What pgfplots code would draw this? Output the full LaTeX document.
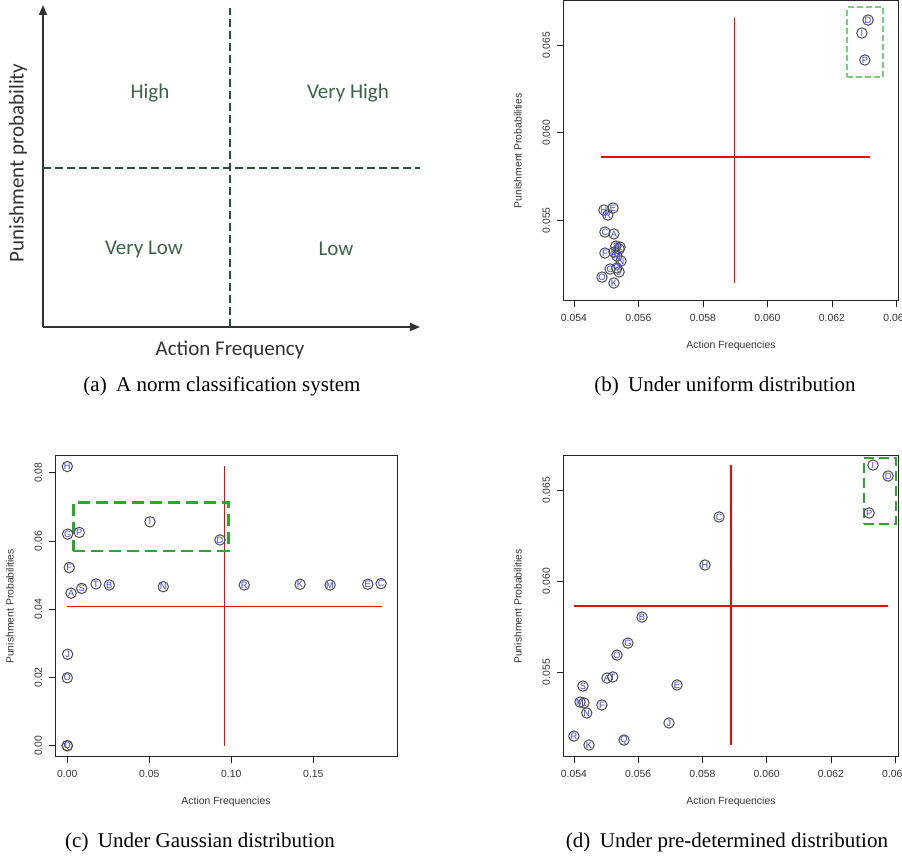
\documentclass[border=0pt]{standalone}
\usepackage{fontspec}
\setmainfont{Liberation Serif}
\newfontfamily\rfont{Liberation Sans}
\newfontfamily\cfont{Carlito}
\usepackage{pgfplots}
\pgfplotsset{compat=1.18}
\usepackage{pgfplotstable}
\usetikzlibrary{arrows.meta}

\definecolor{qgreen}{RGB}{60,100,75}
\definecolor{qdash}{RGB}{40,80,55}
\definecolor{ptblue}{RGB}{60,60,255}
\definecolor{boxgreen}{RGB}{40,170,40}
\definecolor{boxlight}{RGB}{120,205,120}
\definecolor{rline}{RGB}{255,0,0}

% points: uniform
\pgfplotstableread{
x y lab
0.06312 0.06643 D
0.06293 0.06569 I
0.06302 0.06415 P
0.05493 0.05559 H
0.05521 0.05570 E
0.05505 0.05530 R
0.05496 0.05433 C
0.05524 0.05422 A
0.05496 0.05313 F
0.05540 0.05336 T
0.05530 0.05353 S
0.05524 0.05319 B
0.05543 0.05347 L
0.05533 0.05296 M
0.05546 0.05268 N
0.05512 0.05222 G
0.05540 0.05205 J
0.05533 0.05228 Q
0.05487 0.05176 O
0.05524 0.05142 K
}\ptsb

% points: gaussian
\pgfplotstableread{
x y lab
0.0000 0.0818 H
0.0002 0.0620 G
0.0073 0.0625 P
0.0504 0.0656 I
0.0931 0.0603 D
0.0012 0.0522 F
0.0023 0.0447 A
0.0088 0.0461 S
0.0175 0.0474 T
0.0256 0.0471 B
0.0585 0.0466 N
0.1079 0.0471 R
0.1419 0.0473 K
0.1602 0.0471 M
0.1832 0.0473 E
0.1913 0.0475 C
0.0002 0.0268 J
0.0000 0.0199 O
0.0000 0.0000 L
0.0000 0.0000 Q
}\ptsc

% points: pre-determined
\pgfplotstableread{
x y lab
0.06331 0.06637 I
0.06378 0.06577 D
0.06319 0.06374 P
0.05852 0.06352 C
0.05808 0.06088 H
0.05612 0.05802 B
0.05568 0.05659 G
0.05534 0.05593 O
0.05503 0.05467 A
0.05521 0.05473 T
0.05428 0.05423 S
0.05721 0.05429 E
0.05419 0.05335 M
0.05431 0.05330 L
0.05487 0.05319 F
0.05440 0.05275 N
0.05696 0.05220 J
0.05400 0.05148 R
0.05556 0.05126 Q
0.05447 0.05099 K
}\ptsd

\pgfplotsset{
  rplot/.style={
    scale only axis, scaled ticks=false,
    axis line style={black!85, line width=0.5pt},
    tick align=outside, tick pos=left, major tick length=3pt,
    tick style={black!85, line width=0.4pt},
    ticklabel style={font=\rfont\fontsize{5.2}{6}\selectfont, text=black!80},
    yticklabel style={rotate=90, anchor=south},
    label style={font=\rfont\fontsize{5.2}{6}\selectfont, text=black!80},
    xlabel style={at={(axis description cs:0.5,0)}, anchor=center, yshift=-22.5pt},
    ylabel style={at={(axis description cs:0,0.5)}, anchor=center, yshift=22.5pt},
    xlabel={Action Frequencies}, ylabel={Punishment Probabilities},
  },
  pts/.style={only marks, mark=o, mark size=2.6pt,
    mark options={draw=black!70, line width=0.5pt},
    nodes near coords, point meta=explicit symbolic,
    every node near coord/.append style={anchor=center, inner sep=0pt,
      font=\rfont\fontsize{4.6}{4.6}\selectfont, text=ptblue}},
  redline/.style={color=rline, line width=0.55pt, no markers},
}

\begin{document}
\begin{tikzpicture}
\path[use as bounding box] (0,0) rectangle (451pt,429pt);

% (a) classification scheme
\begin{axis}[at={(21.5pt,265.5pt)}, anchor=south west, scale only axis,
  width=188.5pt, height=161pt, xmin=0, xmax=377, ymin=0, ymax=322,
  axis lines=left, xtick=\empty, ytick=\empty, clip=false,
  axis line style={black!80, line width=0.85pt, -{Triangle[length=5pt,width=4pt]}}]
  \addplot[qdash, line width=0.65pt, dash pattern=on 4pt off 2pt, no markers] coordinates {(187,0) (187,319)};
  \addplot[qdash, line width=0.65pt, dash pattern=on 4pt off 2pt, no markers] coordinates {(0,159) (377,159)};
  \node[font=\cfont\fontsize{10.5}{12}\selectfont, text=qgreen] at (axis cs:107,234) {High};
  \node[font=\cfont\fontsize{10.5}{12}\selectfont, text=qgreen] at (axis cs:305,234) {Very High};
  \node[font=\cfont\fontsize{10.5}{12}\selectfont, text=qgreen] at (axis cs:101,78) {Very Low};
  \node[font=\cfont\fontsize{10.5}{12}\selectfont, text=qgreen] at (axis cs:293,78) {Low};
  \node[font=\cfont\fontsize{10.5}{12}\selectfont, text=black!80] at (axis cs:187,-23) {Action Frequency};
  \node[font=\cfont\fontsize{10.5}{12}\selectfont, text=black!80, rotate=90] at (axis cs:-25,164) {Punishment probability};
\end{axis}

% (b) uniform
\begin{axis}[rplot, at={(281.5pt,278.5pt)}, anchor=south west,
  width=168pt, height=150pt,
  xmin=0.05366, xmax=0.06408, ymin=0.050394, ymax=0.067517,
  xtick={0.054,0.056,0.058,0.060,0.062,0.064},
  xticklabels={0.054,0.056,0.058,0.060,0.062,0.064},
  ytick={0.055,0.060,0.065}, yticklabels={0.055,0.060,0.065}]
  \addplot[redline] coordinates {(0.05899,0.05142) (0.05899,0.06655)};
  \addplot[redline] coordinates {(0.05484,0.05861) (0.06318,0.05861)};
  \addplot[boxlight, line width=0.7pt, dash pattern=on 3pt off 1.5pt, no markers]
    coordinates {(0.06247,0.06318) (0.06358,0.06318) (0.06358,0.06717) (0.06247,0.06717) (0.06247,0.06318)};
  \addplot[pts] table[x=x, y=y, meta=lab] {\ptsb};
\end{axis}

% (c) gaussian
\begin{axis}[rplot, at={(27.5pt,50.5pt)}, anchor=south west,
  width=171pt, height=150.5pt,
  xmin=-0.0075, xmax=0.2010, ymin=-0.00331, ymax=0.08489,
  xtick={0,0.05,0.10,0.15}, xticklabels={0.00,0.05,0.10,0.15},
  ytick={0,0.02,0.04,0.06,0.08}, yticklabels={0.00,0.02,0.04,0.06,0.08}]
  \addplot[redline] coordinates {(0.0957,0) (0.0957,0.0820)};
  \addplot[redline] coordinates {(0,0.0409) (0.1917,0.0409)};
  \addplot[boxgreen, line width=1.2pt, dash pattern=on 6pt off 3pt, no markers]
    coordinates {(0.0037,0.0571) (0.0982,0.0571) (0.0982,0.0713) (0.0037,0.0713) (0.0037,0.0571)};
  \addplot[pts] table[x=x, y=y, meta=lab] {\ptsc};
\end{axis}

% (d) pre-determined
\begin{axis}[rplot, at={(281.5pt,50.5pt)}, anchor=south west,
  width=168pt, height=150.5pt,
  xmin=0.05366, xmax=0.06412, ymin=0.05033, ymax=0.06687,
  xtick={0.054,0.056,0.058,0.060,0.062,0.064},
  xticklabels={0.054,0.056,0.058,0.060,0.062,0.064},
  ytick={0.055,0.060,0.065}, yticklabels={0.055,0.060,0.065}]
  \addplot[redline] coordinates {(0.05889,0.05099) (0.05889,0.06637)};
  \addplot[redline] coordinates {(0.05400,0.05863) (0.06378,0.05863)};
  \addplot[boxgreen, line width=1pt, dash pattern=on 5pt off 2.5pt, no markers]
    coordinates {(0.06303,0.06313) (0.06403,0.06313) (0.06403,0.06676) (0.06303,0.06676) (0.06303,0.06313)};
  \addplot[pts] table[x=x, y=y, meta=lab] {\ptsd};
\end{axis}

% captions
\node[font=\fontsize{10.5}{12}\selectfont] at (111pt,236pt) {(a)\hspace{0.45em}A norm classification system};
\node[font=\fontsize{10.5}{12}\selectfont] at (362.5pt,236pt) {(b)\hspace{0.45em}Under uniform distribution};
\node[font=\fontsize{10.5}{12}\selectfont] at (100pt,8pt) {(c)\hspace{0.45em}Under Gaussian distribution};
\node[font=\fontsize{10.5}{12}\selectfont] at (363.5pt,8pt) {(d)\hspace{0.45em}Under pre-determined distribution};
\end{tikzpicture}
\end{document}
